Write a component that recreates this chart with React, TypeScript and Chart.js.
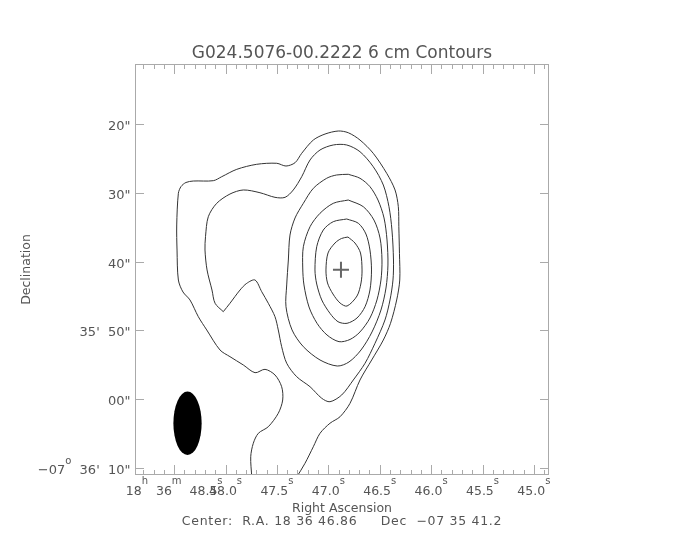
import React, { useEffect, useRef } from 'react';
import { Chart, registerables } from 'chart.js';

Chart.register(...registerables);

// ---------- text ----------
const TITLE = 'G024.5076-00.2222 6 cm Contours';
const X_TITLE = 'Right Ascension';
const Y_TITLE = 'Declination';
const CENTER_NOTE = 'Center:  R.A. 18 36 46.86     Dec  \u221207 35 41.2';

// ---------- axes (RA in seconds of 18h36m, Dec in arcsec of -07d35') ----------
const raRange = [44.853, 48.881];
const decRange = [11.28, 71.02];
const raMajorTicks = [48.5, 48.0, 47.5, 47.0, 46.5, 46.0, 45.5, 45.0];
const raTickLabels = ['18^h  36^m  48.5^s', '48.0^s', '47.5^s', '47.0^s', '46.5^s', '46.0^s', '45.5^s', '45.0^s'];
const raMinorTicks = [48.8, 48.7, 48.6, 48.4, 48.3, 48.2, 48.1, 47.9, 47.8, 47.7, 47.6, 47.4, 47.3, 47.2, 47.1, 46.9, 46.8, 46.7, 46.6, 46.4, 46.3, 46.2, 46.1, 45.9, 45.8, 45.7, 45.6, 45.4, 45.3, 45.2, 45.1, 44.9];
const decTicks = [20, 30, 40, 50, 60, 70];
const decTickLabels = ['20"', '30"', '40"', "35'  50\"", '00"', "\u221207^o  36'  10\""];

// ---------- contours (outermost to innermost) ----------
const c1RA = [47.745, 47.755, 47.730, 47.681, 47.584, 47.487, 47.444, 47.454, 47.519, 47.616, 47.713, 47.827, 47.957, 48.054, 48.183, 48.265, 48.346, 48.414, 48.459, 48.472, 48.475, 48.459, 48.433, 48.385, 48.314, 48.119, 48.037, 47.891, 47.697, 47.502, 47.412, 47.324, 47.259, 47.146, 47.032, 46.903, 46.806, 46.692, 46.563, 46.432, 46.351, 46.319, 46.314, 46.308, 46.305, 46.335, 46.395, 46.465, 46.578, 46.692, 46.789, 46.886, 46.984, 47.081, 47.146, 47.227, 47.307];
const c1Dec = [71.3, 68.36, 66.41, 64.96, 64.00, 62.05, 60.12, 58.19, 56.48, 55.66, 56.15, 55.03, 53.82, 52.85, 49.94, 48.01, 45.58, 44.42, 42.68, 38.32, 34.68, 30.07, 29.09, 28.50, 28.29, 28.24, 27.66, 26.59, 25.86, 25.71, 26.11, 25.63, 24.26, 22.33, 21.46, 21.02, 21.27, 22.33, 24.26, 27.17, 29.59, 32.02, 34.93, 38.80, 42.68, 45.58, 48.97, 51.40, 54.30, 57.21, 60.60, 62.55, 63.50, 64.96, 66.91, 69.32, 71.3];

const c2RA = [48.022, 48.102, 48.132, 48.180, 48.200, 48.195, 48.168, 48.086, 47.957, 47.827, 47.665, 47.519, 47.421, 47.341, 47.259, 47.178, 47.081, 46.952, 46.821, 46.692, 46.563, 46.465, 46.410, 46.381, 46.366, 46.371, 46.400, 46.449, 46.546, 46.643, 46.757, 46.870, 46.984, 47.064, 47.178, 47.308, 47.405, 47.454, 47.487, 47.519, 47.584, 47.648, 47.713, 47.794, 47.859, 47.957];
const c2Dec = [47.28, 46.06, 44.13, 41.22, 38.32, 36.38, 33.48, 31.53, 30.18, 29.59, 29.99, 30.66, 30.66, 29.59, 27.66, 25.23, 23.78, 23.05, 23.05, 24.03, 26.21, 28.87, 32.02, 35.41, 39.77, 42.68, 45.58, 48.49, 51.88, 54.78, 57.21, 59.39, 60.37, 59.87, 58.19, 56.73, 54.78, 52.37, 49.94, 48.01, 46.06, 44.38, 42.68, 43.16, 44.13, 46.06];

const c3RA = [46.806, 46.692, 46.595, 46.517, 46.458, 46.429, 46.420, 46.439, 46.488, 46.575, 46.682, 46.799, 46.913, 47.081, 47.243, 47.353, 47.412, 47.405, 47.389, 47.373, 47.324, 47.243, 47.146, 47.016, 46.919];
const c3Dec = [27.31, 27.89, 29.11, 31.05, 33.66, 36.86, 40.50, 43.84, 47.04, 50.23, 52.85, 54.59, 55.18, 54.30, 52.37, 49.94, 46.56, 43.40, 39.77, 36.14, 33.66, 31.53, 29.35, 27.89, 27.41];

const c4RA = [46.806, 46.660, 46.556, 46.497, 46.478, 46.488, 46.527, 46.595, 46.692, 46.789, 46.896, 47.013, 47.110, 47.188, 47.237, 47.249, 47.243, 47.178, 47.081, 46.952];
const c4Dec = [31.05, 32.02, 33.96, 36.57, 39.77, 42.68, 45.58, 48.20, 50.23, 51.32, 51.64, 50.67, 48.97, 46.60, 43.40, 40.93, 37.84, 34.93, 32.98, 31.53];

const c5RA = [46.821, 46.708, 46.634, 46.595, 46.580, 46.595, 46.643, 46.721, 46.818, 46.906, 46.984, 47.064, 47.113, 47.130, 47.113, 47.049, 46.952];
const c5Dec = [33.81, 34.43, 35.99, 38.32, 41.22, 44.13, 46.56, 48.20, 48.97, 48.74, 47.52, 45.58, 43.26, 41.22, 37.84, 35.41, 34.20];

const c6RA = [46.809, 46.741, 46.687, 46.672, 46.682, 46.721, 46.818, 46.886, 46.955, 47.008, 47.023, 47.003, 46.935, 46.872];
const c6Dec = [36.43, 37.30, 38.75, 41.22, 43.11, 45.00, 46.46, 46.02, 44.71, 43.11, 41.22, 38.75, 37.30, 36.64];

const contourRA = [c1RA, c2RA, c3RA, c4RA, c5RA, c6RA];
const contourDec = [c1Dec, c2Dec, c3Dec, c4Dec, c5Dec, c6Dec];
const contourClosed = [false, true, true, true, true, true];

// source position marker and beam (RA s, Dec arcsec; beam size RA s x Dec arcsec)
const peakRA = [46.877];
const peakDec = [41.2];
const beamCenter = [48.37, 63.5];
const beamSize = [0.275, 9.2];

// ---------- style ----------
const FONT = '"DejaVu Sans", sans-serif';
const TEXT = '#555555';
const AXIS = '#aaaaaa';
const LINE = '#333333';

function parseRich(s: string) {
  const parts: { t: string; sup: boolean }[] = [];
  let buf = '';
  for (let i = 0; i < s.length; i++) {
    if (s[i] === '^' && i + 1 < s.length) {
      if (buf) parts.push({ t: buf, sup: false });
      buf = '';
      parts.push({ t: s[i + 1], sup: true });
      i++;
    } else buf += s[i];
  }
  if (buf) parts.push({ t: buf, sup: false });
  return parts;
}

function drawRich(ctx: CanvasRenderingContext2D, s: string, x: number, y: number, align: string, size: number, supSize: number, raise: number) {
  const parts = parseRich(s);
  const widths = parts.map((p) => {
    ctx.font = `${p.sup ? supSize : size}px ${FONT}`;
    return ctx.measureText(p.t).width;
  });
  const total = widths.reduce((a, b) => a + b, 0);
  let cx = align === 'center' ? x - total / 2 : align === 'right' ? x - total : x;
  ctx.textAlign = 'left';
  ctx.textBaseline = 'alphabetic';
  parts.forEach((p, i) => {
    ctx.font = `${p.sup ? supSize : size}px ${FONT}`;
    ctx.fillText(p.t, cx, p.sup ? y - raise : y);
    cx += widths[i];
  });
}

const decorPlugin = {
  id: 'decor',
  afterDraw(chart: any) {
    const { ctx, chartArea: a, scales } = chart;
    const xs = scales.x;
    const ys = scales.y;
    ctx.save();

    // beam
    const bx = xs.getPixelForValue(beamCenter[0]);
    const by = ys.getPixelForValue(beamCenter[1]);
    const rx = Math.abs(xs.getPixelForValue(beamCenter[0] + beamSize[0] / 2) - bx);
    const ry = Math.abs(ys.getPixelForValue(beamCenter[1] + beamSize[1] / 2) - by);
    ctx.fillStyle = '#000';
    ctx.beginPath();
    ctx.ellipse(bx, by, rx, ry, 0, 0, Math.PI * 2);
    ctx.fill();

    // frame
    ctx.strokeStyle = AXIS;
    ctx.lineWidth = 1;
    ctx.strokeRect(a.left + 0.5, a.top + 0.5, a.right - a.left - 1, a.bottom - a.top - 1);

    // ticks
    ctx.beginPath();
    const xTick = (v: number, len: number) => {
      const px = Math.round(xs.getPixelForValue(v)) + 0.5;
      ctx.moveTo(px, a.bottom);
      ctx.lineTo(px, a.bottom - len);
      ctx.moveTo(px, a.top);
      ctx.lineTo(px, a.top + len);
    };
    raMajorTicks.forEach((v) => xTick(v, 10));
    raMinorTicks.forEach((v) => xTick(v, 5));
    decTicks.forEach((v) => {
      const py = Math.round(ys.getPixelForValue(v)) + 0.5;
      ctx.moveTo(a.left, py);
      ctx.lineTo(a.left + 9, py);
      ctx.moveTo(a.right, py);
      ctx.lineTo(a.right - 9, py);
    });
    ctx.stroke();

    // tick labels
    ctx.fillStyle = TEXT;
    raMajorTicks.forEach((v, i) => {
      drawRich(ctx, raTickLabels[i], xs.getPixelForValue(v), a.bottom + 20, 'center', 12.5, 10, 11);
    });
    decTicks.forEach((v, i) => {
      drawRich(ctx, decTickLabels[i], a.left - 4.5, ys.getPixelForValue(v) + 6, 'right', 13, 10, 10);
    });

    // titles
    ctx.textAlign = 'center';
    ctx.textBaseline = 'alphabetic';
    const cxMid = (a.left + a.right) / 2;
    ctx.font = `17px ${FONT}`;
    ctx.fillText(TITLE, cxMid, a.top - 6);
    ctx.font = `12.5px ${FONT}`;
    ctx.fillText(X_TITLE, cxMid, a.bottom + 37);
    (ctx as any).letterSpacing = '0.7px';
    ctx.fillText(CENTER_NOTE, cxMid, a.bottom + 50);
    (ctx as any).letterSpacing = '0px';
    ctx.translate(29.5, (a.top + a.bottom) / 2);
    ctx.rotate(-Math.PI / 2);
    ctx.fillText(Y_TITLE, 0, 0);
    ctx.restore();
  },
};

export default function App() {
  const ref = useRef<HTMLCanvasElement>(null);
  useEffect(() => {
    const datasets: any[] = contourRA.map((ras, k) => {
      const pts = ras.map((x, i) => ({ x, y: contourDec[k][i] }));
      if (contourClosed[k]) pts.push({ ...pts[0] });
      return {
        data: pts,
        showLine: true,
        pointRadius: 0,
        borderColor: LINE,
        borderWidth: 1,
        tension: 0.3,
        fill: false,
        clip: 0,
      };
    });
    datasets.push({
      data: peakRA.map((x, i) => ({ x, y: peakDec[i] })),
      showLine: false,
      pointStyle: 'cross',
      pointRadius: 8,
      borderColor: '#666666',
      borderWidth: 2,
    });
    const chart = new Chart(ref.current as HTMLCanvasElement, {
      type: 'scatter',
      data: { datasets },
      options: {
        animation: false,
        responsive: false,
        devicePixelRatio: 1,
        layout: { padding: { left: 135, top: 64, right: 135, bottom: 65 } },
        plugins: { legend: { display: false }, tooltip: { enabled: false } },
        scales: {
          x: { type: 'linear', reverse: true, min: raRange[0], max: raRange[1], display: false },
          y: { type: 'linear', reverse: true, min: decRange[0], max: decRange[1], display: false },
        },
      },
      plugins: [decorPlugin],
    } as any);
    return () => chart.destroy();
  }, []);
  return (
    <div style={{ position: 'absolute', left: 0, top: 0, width: 684, height: 540, background: '#fff' }}>
      <canvas ref={ref} width={684} height={540} style={{ display: 'block' }} />
    </div>
  );
}
